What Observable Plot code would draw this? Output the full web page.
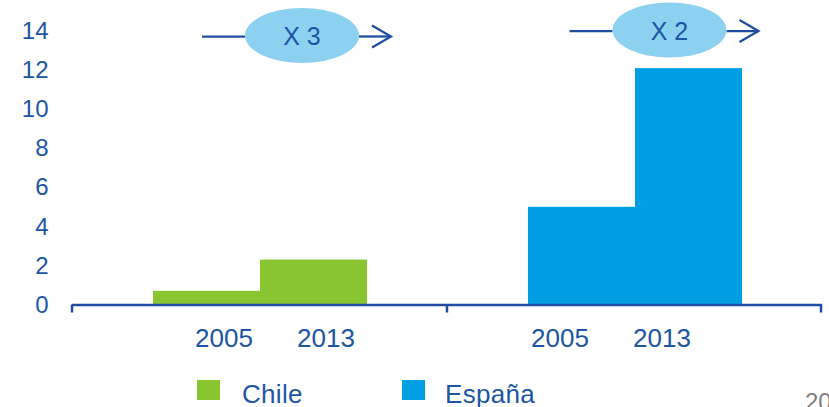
<!DOCTYPE html>
<html>
<head>
<meta charset="utf-8">
<script src="https://cdn.jsdelivr.net/npm/d3@7"></script>
<script src="https://cdn.jsdelivr.net/npm/@observablehq/plot@0.6"></script>
<style>
  body { margin: 0; background: #fff; font-family: "Liberation Sans", Arial, sans-serif; }
  #wrap { position: relative; width: 829px; height: 407px; overflow: hidden; background: #fff; }
  #legend { position: absolute; left: 0; top: 0; width: 829px; height: 407px; pointer-events: none; }
  .sw { position: absolute; width: 23px; height: 20px; }
  .lab { position: absolute; font-size: 26px; line-height: 26px; letter-spacing: 0.3px; color: #1d55a5; white-space: nowrap; }
  #page { position: absolute; font-size: 24px; line-height: 24px; color: #808080; }
</style>
</head>
<body>
<div id="wrap">
  <div id="chart"></div>
  <div id="legend"></div>
</div>
<script>
// ---- data ----
const countries = ["Chile", "España"];
const years = ["2005", "2013"];
const chileValues = [0.7, 2.3];
const espanaValues = [5.0, 12.1];
const yTicks = [0, 2, 4, 6, 8, 10, 12, 14];
const countryColors = ["#89c531", "#009fe3"];
const growthLabels = ["X 3", "X 2"];
const pageNumber = "20";

const seriesValues = [chileValues, espanaValues];
const data = [];
countries.forEach((c, i) => years.forEach((yr, j) => data.push({country: c, year: yr, value: seriesValues[i][j]})));

// ---- style / layout ----
const textColor = "#1d55a5";
const axisColor = "#1f4ea0";
const ellipseFill = "#8dd1f1";
// horizontal nudges of the year labels (as placed in the original slide)
const labelDx = [[17, 12], [-22, -27]];

const yearLabelMarks = data.map((d, k) =>
  Plot.text([d], {
    fx: "country", x: "year", text: "year",
    frameAnchor: "bottom", lineAnchor: "middle",
    dy: 33.5, dx: labelDx[countries.indexOf(d.country)][years.indexOf(d.year)],
    fill: textColor, fontSize: 26
  })
);

const chart = Plot.plot({
  width: 829,
  height: 376,
  marginLeft: 72,
  marginRight: 7,
  marginTop: 31,
  marginBottom: 71.5,
  style: {fontFamily: "'Liberation Sans', Arial, sans-serif", fontSize: "24px", color: textColor, background: "white", overflow: "visible"},
  fx: {domain: countries, padding: 0, axis: null},
  x: {domain: years, paddingInner: 0, paddingOuter: 0.744, axis: null},
  y: {domain: [0, 14], ticks: yTicks, tickSize: 0, tickPadding: 24, label: null},
  color: {domain: countries, range: countryColors},
  marks: [
    Plot.barY(data, {fx: "country", x: "year", y: "value", fill: "country", inset: 0}),
    Plot.ruleY([0], {stroke: axisColor, strokeWidth: 2.5}),
    ...yearLabelMarks
  ]
});
document.getElementById("chart").appendChild(chart);

// ---- decorations through the plot's scales ----
const svg = d3.select(chart);
const fxS = chart.scale("fx");
const yS = chart.scale("y");
const y0 = yS.apply(0);
const bw = fxS.bandwidth;
const deco = svg.append("g");
const edges = countries.map(c => fxS.apply(c)).concat([fxS.apply(countries[countries.length - 1]) + bw]);
edges.forEach((x, i) => {
  const xx = i === edges.length - 1 ? x - 1 : x;
  deco.append("line").attr("x1", xx).attr("x2", xx).attr("y1", y0).attr("y2", y0 + 8)
    .attr("stroke", axisColor).attr("stroke-width", 2.5);
});

// growth annotations (ellipse with arrow) above each group
const annLayout = [{dx: 230, dy: 4.5}, {dx: 222.5, dy: -1}];
growthLabels.forEach((lab, i) => {
  const cx = fxS.apply(countries[i]) + annLayout[i].dx;
  const cy = yS.apply(14) + annLayout[i].dy;
  const rx = 57, ry = 27.5;
  const g = deco.append("g");
  g.append("line").attr("x1", cx - rx - 43).attr("x2", cx - rx).attr("y1", cy + 1).attr("y2", cy + 1)
    .attr("stroke", axisColor).attr("stroke-width", 2.25);
  g.append("line").attr("x1", cx + rx).attr("x2", cx + rx + 32).attr("y1", cy + 1).attr("y2", cy + 1)
    .attr("stroke", axisColor).attr("stroke-width", 2.25);
  g.append("polyline")
    .attr("points", `${cx + rx + 13},${cy - 10} ${cx + rx + 32},${cy + 1} ${cx + rx + 13},${cy + 12}`)
    .attr("fill", "none").attr("stroke", axisColor).attr("stroke-width", 2.25);
  g.append("ellipse").attr("cx", cx).attr("cy", cy).attr("rx", rx).attr("ry", ry).attr("fill", ellipseFill);
  g.append("text").attr("x", cx).attr("y", cy + 1).attr("text-anchor", "middle").attr("dy", "0.35em")
    .attr("fill", textColor).attr("font-size", 25).text(lab);
});

// ---- legend (below the svg) ----
const legend = document.getElementById("legend");
const legendPos = [{sw: 197, lab: 242}, {sw: 402, lab: 445}];
countries.forEach((c, i) => {
  const s = document.createElement("div");
  s.className = "sw"; s.style.left = legendPos[i].sw + "px"; s.style.top = "380px"; s.style.background = countryColors[i];
  legend.appendChild(s);
  const t = document.createElement("div");
  t.className = "lab"; t.style.left = legendPos[i].lab + "px"; t.style.top = "380.5px"; t.textContent = c;
  legend.appendChild(t);
});
const pg = document.createElement("div");
pg.id = "page"; pg.style.left = "805px"; pg.style.top = "390px"; pg.textContent = pageNumber;
legend.appendChild(pg);
</script>
</body>
</html>
